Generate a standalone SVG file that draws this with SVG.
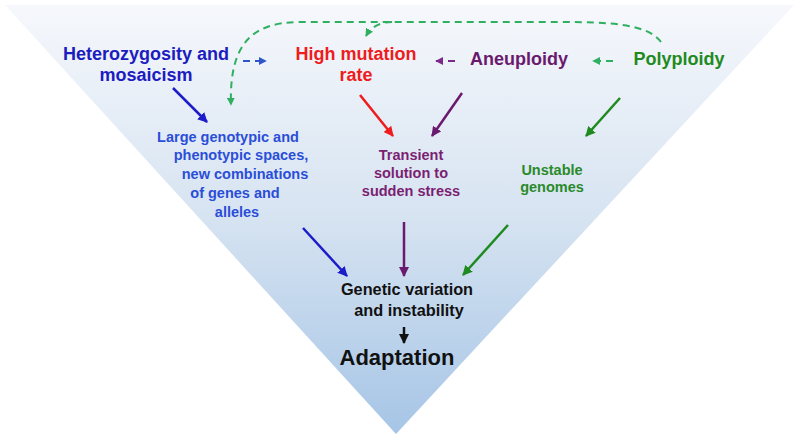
<svg xmlns="http://www.w3.org/2000/svg" width="800" height="440" viewBox="0 0 800 440">
<defs>
<linearGradient id="bg" x1="0" y1="0" x2="0" y2="1">
<stop offset="0" stop-color="#f6f8fc"/>
<stop offset="0.5" stop-color="#d6e3f1"/>
<stop offset="1" stop-color="#a6c5e6"/>
</linearGradient>
<marker id="mBlue" viewBox="0 0 10 10" refX="9" refY="5" markerWidth="4" markerHeight="4" orient="auto"><path d="M0,0 L10,5 L0,10 Z" fill="#1c1cc8"/></marker>
<marker id="mRed" viewBox="0 0 10 10" refX="9" refY="5" markerWidth="4" markerHeight="4" orient="auto"><path d="M0,0 L10,5 L0,10 Z" fill="#ee1c1c"/></marker>
<marker id="mPur" viewBox="0 0 10 10" refX="9" refY="5" markerWidth="4" markerHeight="4" orient="auto"><path d="M0,0 L10,5 L0,10 Z" fill="#6a1a6e"/></marker>
<marker id="mGrn" viewBox="0 0 10 10" refX="9" refY="5" markerWidth="4" markerHeight="4" orient="auto"><path d="M0,0 L10,5 L0,10 Z" fill="#1f8a1f"/></marker>
<marker id="mBlk" viewBox="0 0 10 10" refX="9" refY="5" markerWidth="4" markerHeight="4" orient="auto"><path d="M0,0 L10,5 L0,10 Z" fill="#111"/></marker>
<marker id="mDB" viewBox="0 0 10 10" refX="9" refY="5" markerWidth="4" markerHeight="4" orient="auto"><path d="M0,0 L10,5 L0,10 Z" fill="#2e56c8"/></marker>
<marker id="mDP" viewBox="0 0 10 10" refX="9" refY="5" markerWidth="4" markerHeight="4" orient="auto"><path d="M0,0 L10,5 L0,10 Z" fill="#7a2a8a"/></marker>
<marker id="mDG" viewBox="0 0 10 10" refX="9" refY="5" markerWidth="4" markerHeight="4" orient="auto"><path d="M0,0 L10,5 L0,10 Z" fill="#2fb060"/></marker>
</defs>
<style>
text{font-family:"Liberation Sans",Arial,sans-serif;font-weight:bold;text-anchor:middle}
.top{font-size:18px}
.mid{font-size:14.5px}
.gv{font-size:16.3px}
.sol{fill:none;stroke-width:2.5}
.dash{fill:none;stroke-width:2;stroke-dasharray:7 5}
</style>
<polygon points="5,5 794,5 396,434" fill="url(#bg)"/>
<g id="connectors">
<path class="dash" d="M661,42 C648,24 610,22 560,22 L300,22 C252,22 229,44 231,105" stroke="#2fb060" marker-end="url(#mDG)"/>
<path class="dash" d="M392,22 C380,22 371,27 366,36" stroke="#2fb060" marker-end="url(#mDG)"/>
<path class="dash" d="M243,61 L266,61" stroke="#2e56c8" marker-end="url(#mDB)"/>
<path class="dash" d="M455,61 L436,61" stroke="#7a2a8a" marker-end="url(#mDP)"/>
<path class="dash" d="M613,61 L593,61" stroke="#2fb060" marker-end="url(#mDG)"/>
<path class="sol" d="M173,88 L207,122" stroke="#1c1cc8" marker-end="url(#mBlue)"/>
<path class="sol" d="M360,95 L393,136" stroke="#ee1c1c" marker-end="url(#mRed)"/>
<path class="sol" d="M462,93 L432,136" stroke="#6a1a6e" marker-end="url(#mPur)"/>
<path class="sol" d="M620,98 L586,136" stroke="#1f8a1f" marker-end="url(#mGrn)"/>
<path class="sol" d="M303,228 L347,276" stroke="#1c1cc8" marker-end="url(#mBlue)"/>
<path class="sol" d="M404,222 L404,276" stroke="#6a1a6e" marker-end="url(#mPur)"/>
<path class="sol" d="M508,225 L463,275" stroke="#1f8a1f" marker-end="url(#mGrn)"/>
<path class="sol" d="M404,327 L404,343" stroke="#111" marker-end="url(#mBlk)"/>
</g>
<g id="heterozygosity"><text class="top" fill="#1c1cc0" x="146" y="60">Heterozygosity and</text><text class="top" fill="#1c1cc0" x="146" y="81">mosaicism</text></g>
<g id="high-mutation"><text class="top" fill="#ee1c1c" x="356" y="60">High mutation</text><text class="top" fill="#ee1c1c" x="356" y="81">rate</text></g>
<g id="aneuploidy"><text class="top" fill="#6a1a6e" x="519" y="65">Aneuploidy</text></g>
<g id="polyploidy"><text class="top" fill="#1f8a1f" x="679" y="65">Polyploidy</text></g>
<g id="large-spaces" fill="#2a4ed8">
<text class="mid" x="228" y="142">Large genotypic and</text>
<text class="mid" x="241" y="160">phenotypic spaces,</text>
<text class="mid" x="245" y="179">new combinations</text>
<text class="mid" x="235" y="198">of genes and</text>
<text class="mid" x="237" y="217">alleles</text>
</g>
<g id="transient" fill="#7b1f72">
<text class="mid" x="411" y="160">Transient</text>
<text class="mid" x="411" y="178">solution to</text>
<text class="mid" x="411" y="196">sudden stress</text>
</g>
<g id="unstable" fill="#2a8a2a">
<text class="mid" x="552" y="175">Unstable</text>
<text class="mid" x="552" y="192">genomes</text>
</g>
<g id="genetic-variation" fill="#111">
<text class="gv" x="407" y="295">Genetic variation</text>
<text class="gv" x="409" y="316">and instability</text>
</g>
<g id="adaptation"><text x="397" y="365" fill="#111" style="font-size:22px">Adaptation</text></g>
</svg>
